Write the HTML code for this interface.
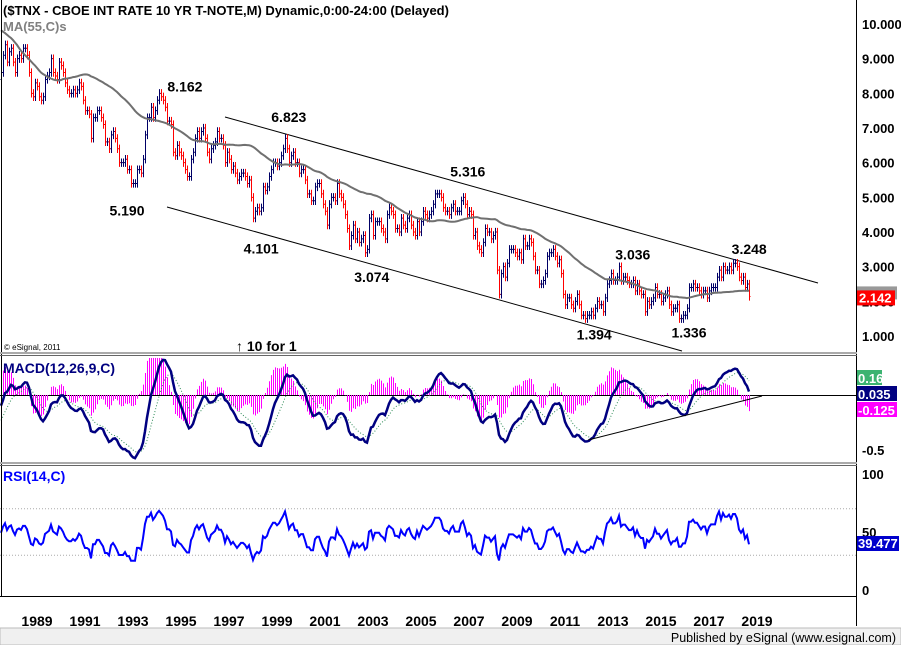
<!DOCTYPE html>
<html><head><meta charset="utf-8">
<style>
html,body{margin:0;padding:0;background:#fff;}
svg{display:block;font-family:"Liberation Sans",Arial,sans-serif;}
.b{font-weight:bold;font-size:14px;fill:#000;}
.ax{font-weight:bold;font-size:13px;fill:#000;}
</style></head>
<body>
<svg id="chart" width="901" height="645" viewBox="0 0 901 645" xmlns="http://www.w3.org/2000/svg">
<rect x="0" y="0" width="901" height="645" fill="#fff"/>
<g id="price"></g>
<g id="macd"></g>
<g id="rsi"></g>
<g id="frame">
  <line x1="1.5" y1="0" x2="1.5" y2="597" stroke="#000"/>
  <line x1="856.5" y1="0" x2="856.5" y2="626" stroke="#000"/>
  <line x1="0" y1="353" x2="857" y2="353" stroke="#aaa" stroke-width="2"/>
  <line x1="0" y1="355.5" x2="857" y2="355.5" stroke="#666"/>
  <line x1="0" y1="463" x2="857" y2="463" stroke="#aaa" stroke-width="2"/>
  <line x1="0" y1="465.5" x2="857" y2="465.5" stroke="#666"/>
  <line x1="0" y1="596.5" x2="857" y2="596.5" stroke="#000"/>
  <rect x="0" y="628" width="901" height="17" fill="#f0f0f0" stroke="#bbb"/>
  <text x="896" y="642" text-anchor="end" font-size="12.5" fill="#000">Published by eSignal (www.esignal.com)</text>
</g>
<g>
  <text x="3" y="15" font-size="13" font-weight="bold" fill="#000">($TNX - CBOE INT RATE 10 YR T-NOTE,M) Dynamic,0:00-24:00 (Delayed)</text>
  <text x="3" y="31" font-size="13" font-weight="bold" fill="#808080">MA(55,C)s</text>
  <text x="3" y="373" font-size="14" font-weight="bold" fill="#000080">MACD(12,26,9,C)</text>
  <text x="3" y="481" font-size="14" font-weight="bold" fill="#0000ff">RSI(14,C)</text>
  <text x="4" y="350" font-size="8" fill="#000">© eSignal, 2011</text>
  <text x="236" y="351" font-size="14" font-weight="bold" fill="#000">↑ 10 for 1</text>
</g>
</svg>
<script>
// Monthly closes of $TNX, Jan 1983 .. May 2019 (first 62 months are MA warm-up, not drawn)
const startYear = 1983;
const closes = [
10.5,10.6,10.5,10.3,10.9,10.9,11.6,11.8,11.4,11.7,11.6,11.8,
11.7,12.2,12.5,12.8,13.8,13.6,12.7,12.7,12.4,11.7,11.6,11.5,
11.2,12.1,11.6,11.4,10.3,10.2,10.6,10.4,10.4,10.0,9.5,8.9,
9.2,7.9,7.3,7.4,8.1,7.3,7.4,7.1,7.6,7.3,7.2,7.2,
7.1,7.2,7.6,8.4,8.8,8.4,8.7,9.0,9.6,8.9,8.9,8.8,
8.4,8.4,8.6,9.1,9.4,8.9,9.2,9.3,8.9,8.6,9.0,9.1,
9.0,9.3,9.3,9.1,8.6,8.0,7.9,8.3,8.2,7.9,7.8,7.9,
8.4,8.5,8.6,9.0,8.6,8.5,8.4,8.9,8.8,8.6,8.3,8.1,
8.0,8.0,8.1,8.0,8.1,8.3,8.2,7.8,7.5,7.5,7.4,6.7,
7.3,7.3,7.5,7.5,7.3,7.1,6.6,6.6,6.4,6.8,6.9,6.7,
6.4,6.0,6.0,6.0,6.1,5.8,5.8,5.4,5.4,5.4,5.8,5.8,
5.7,6.1,6.8,7.3,7.3,7.6,7.3,7.5,7.8,8.0,7.9,7.8,
7.6,7.2,7.2,7.1,6.3,6.2,6.5,6.3,6.2,6.0,5.8,5.6,
5.6,6.1,6.3,6.7,6.9,6.7,6.9,7.0,6.7,6.3,6.1,6.4,
6.5,6.6,6.9,6.7,6.7,6.5,6.0,6.3,6.1,5.8,5.9,5.7,
5.5,5.6,5.7,5.7,5.6,5.4,5.5,5.0,4.4,4.6,4.7,4.6,
4.7,5.3,5.2,5.3,5.6,5.8,6.0,6.0,5.9,6.0,6.2,6.4,
6.7,6.4,6.0,6.2,6.3,6.0,6.0,5.7,5.8,5.8,5.5,5.1,
5.1,4.9,4.9,5.3,5.4,5.4,5.1,4.8,4.6,4.2,4.8,5.0,
5.0,4.9,5.4,5.1,5.0,4.8,4.5,4.1,3.6,3.9,4.2,3.8,
4.0,3.7,3.8,3.9,3.4,3.5,4.4,4.5,3.9,4.3,4.3,4.3,
4.1,4.0,3.8,4.5,4.7,4.6,4.5,4.1,4.1,4.0,4.4,4.2,
4.1,4.4,4.5,4.2,4.0,3.9,4.3,4.0,4.3,4.6,4.5,4.4,
4.5,4.6,4.8,5.1,5.1,5.1,5.0,4.7,4.6,4.6,4.5,4.7,
4.8,4.6,4.6,4.6,4.9,5.0,4.8,4.5,4.6,4.5,3.9,4.0,
3.6,3.5,3.4,3.7,4.1,4.0,4.0,3.8,3.9,4.0,2.9,2.2,
2.8,3.0,2.7,3.1,3.5,3.5,3.5,3.4,3.3,3.4,3.2,3.8,
3.6,3.6,3.8,3.7,3.3,2.9,2.9,2.5,2.5,2.6,2.8,3.3,
3.4,3.4,3.5,3.3,3.1,3.2,2.8,2.2,1.9,2.1,2.1,1.9,
1.8,2.0,2.2,1.9,1.6,1.6,1.5,1.6,1.6,1.7,1.6,1.8,
2.0,1.9,1.9,1.7,2.1,2.5,2.6,2.8,2.6,2.6,2.7,3.0,
2.6,2.7,2.7,2.6,2.5,2.5,2.6,2.3,2.5,2.3,2.2,2.2,
1.7,2.0,1.9,2.0,2.1,2.4,2.2,2.2,2.0,2.1,2.2,2.3,
1.9,1.7,1.8,1.8,1.9,1.5,1.5,1.6,1.6,1.8,2.4,2.4,
2.5,2.4,2.4,2.3,2.2,2.3,2.3,2.1,2.3,2.4,2.4,2.4,
2.7,2.9,2.7,3.0,2.9,2.9,3.0,2.9,3.1,3.1,3.0,2.7,
2.6,2.7,2.4,2.5,2.14
];
const firstShown = 62; // Mar 1988
const priceTicks = [10,9,8,7,6,5,4,3,2,1];
const macdTicks = [-0.5];
const rsiTicks = [100,50,0];
const yearLabels = [1989,1991,1993,1995,1997,1999,2001,2003,2005,2007,2009,2011,2013,2015,2017,2019];
const pivotValues = ["8.162","6.823","5.316","3.248","5.190","4.101","3.074","3.036","1.394","1.336"];
const pivotTimes = [1994.83,1999.95,2007.45,2018.8,1993.75,1998.8,2003.45,2013.95,2012.55,2016.5];
const pivotPrices = [8.162,6.823,5.316,3.248,5.190,4.101,3.074,3.036,1.394,1.336];
const lastPrice = "2.142";
const macdLabels = ["0.16","0.035","-0.125"];
const rsiLabel = "39.477";
// label offsets (px) relative to each pivot
const pivotDx = [24,5,4,13,-8,5,4,13,8,8];
const pivotDy = [4,-12,-10,-4,25,25,18,-6,17,13];

const NS = "http://www.w3.org/2000/svg";
function tOf(i){return startYear + i/12;}
function xOf(t){return 21 + (t-1989)*24;}
function yP(v){return 336 - (v-1)*34.667;}
function yM(v){return Math.max(358, Math.min(461, 395 - v*110));}
function yR(v){return 590 - v*1.16;}
function mk(parent, tag, attrs){const e=document.createElementNS(NS,tag);for(const k in attrs)e.setAttribute(k,attrs[k]);parent.appendChild(e);return e;}

const gP=document.getElementById('price'), gM=document.getElementById('macd'), gR=document.getElementById('rsi');

const ma=[];for(let i=0;i<closes.length;i++){if(i<54){ma.push(null);continue;}let s=0;for(let j=i-54;j<=i;j++)s+=closes[j];ma.push(s/55);}
function ema(arr,n){const k=2/(n+1);const o=[];let p=arr[0];for(let i=0;i<arr.length;i++){p=i===0?arr[0]:arr[i]*k+p*(1-k);o.push(p);}return o;}
const e12=ema(closes,12), e26=ema(closes,26);
const macdV=closes.map((c,i)=>e12[i]-e26[i]);
const sigV=ema(macdV,9);
const rsiV=[];{let ag=0,al=0;for(let i=1;i<closes.length;i++){const d=closes[i]-closes[i-1];const g=Math.max(d,0),l=Math.max(-d,0);if(i<=14){ag+=g/14;al+=l/14;}else{ag=(ag*13+g)/14;al=(al*13+l)/14;}rsiV[i]=al===0?100:100-100/(1+ag/al);}}

priceTicks.forEach(v=>{const t=mk(gP,'text',{x:862,y:yP(v)+5,class:'ax'});t.textContent=v.toFixed(3);

});
[[225,117,818,283],[167,207,682,351]].forEach(l=>{const e=mk(gP,'line',{x1:l[0],y1:l[1],x2:l[2],y2:l[3],stroke:'#000','stroke-width':1});

});
for(let i=firstShown;i<closes.length;i++){
  const o=closes[i-1], c=closes[i]; const x=Math.round(xOf(tOf(i)))+0.5;
  const hi=Math.max(o,c)+0.12, lo=Math.min(o,c)-0.12;
  const col=c<o?'#ff0000':'#000066';
  const g=mk(gP,'g',{stroke:col,'stroke-width':1});
  
  
  mk(g,'line',{x1:x,y1:yP(hi),x2:x,y2:yP(lo)});
  mk(g,'line',{x1:x-1,y1:yP(o),x2:x,y2:yP(o)});
  mk(g,'line',{x1:x,y1:yP(c),x2:x+1,y2:yP(c)});
}
{let d='';for(let i=firstShown;i<closes.length;i++){d+=(d?'L':'M')+xOf(tOf(i)).toFixed(1)+','+yP(ma[i]).toFixed(1);}
const p=mk(gP,'path',{d:d,fill:'none',stroke:'#707070','stroke-width':2});

}
pivotValues.forEach((s,k)=>{const x=xOf(pivotTimes[k])+pivotDx[k];const y=yP(pivotPrices[k])+pivotDy[k];
const t=mk(gP,'text',{x:x,y:y,'text-anchor':'middle',class:'b'});t.textContent=s;

});
{const y=yP(parseFloat(lastPrice));
mk(gP,'rect',{x:857,y:y-10,width:40,height:13,fill:'#999'});
const r=mk(gP,'rect',{x:857,y:y-6,width:38,height:15,fill:'#ff0000'});


const t=mk(gP,'text',{x:859,y:y+6,class:'ax'});t.style.fill='#fff';t.textContent=lastPrice;

}

{const z=mk(gM,'line',{x1:0,y1:395.5,x2:856,y2:395.5,stroke:'#000'});

}
for(let i=firstShown;i<closes.length;i++){const h=macdV[i]-sigV[i];const x=Math.round(xOf(tOf(i)))+0.5;
const l=mk(gM,'line',{x1:x,y1:395,x2:x,y2:yM(h*1.5),stroke:'#ff00ff','stroke-width':1});

}
{let d='',d2='';for(let i=firstShown;i<closes.length;i++){const x=xOf(tOf(i)).toFixed(1);d+=(d?'L':'M')+x+','+yM(macdV[i]).toFixed(1);d2+=(d2?'L':'M')+x+','+yM(sigV[i]).toFixed(1);}
const s=mk(gM,'path',{d:d2,fill:'none',stroke:'#2e8b57','stroke-width':1,'stroke-dasharray':'1,2'});


const m=mk(gM,'path',{d:d,fill:'none',stroke:'#000080','stroke-width':2.5});

}
{const l=mk(gM,'line',{x1:588,y1:440,x2:762,y2:396,stroke:'#000'});

}
macdTicks.forEach(v=>{const t=mk(gM,'text',{x:862,y:yM(v)+5,class:'ax'});t.textContent=String(v);

});
[['#3cb371',378],['#000080',394],['#ff00ff',410]].forEach((c,k)=>{
const r=mk(gM,'rect',{x:857,y:c[1]-8,width:k===0?25:40,height:15,fill:c[0]});


const t=mk(gM,'text',{x:858,y:c[1]+5,class:'ax'});t.style.fill='#fff';t.textContent=macdLabels[k];

});

[70,30].forEach(v=>{const l=mk(gR,'line',{x1:0,y1:yR(v),x2:856,y2:yR(v),stroke:'#aaa','stroke-dasharray':'1,2'});

});
{let d='';for(let i=firstShown;i<closes.length;i++){d+=(d?'L':'M')+xOf(tOf(i)).toFixed(1)+','+yR(rsiV[i]).toFixed(1);}
const p=mk(gR,'path',{d:d,fill:'none',stroke:'#0000ff','stroke-width':2});

}
rsiTicks.forEach(v=>{const t=mk(gR,'text',{x:862,y:yR(v)+5,class:'ax'});t.textContent=String(v);

});
{const r=mk(gR,'rect',{x:857,y:536,width:42,height:15,fill:'#0000cc'});


const t=mk(gR,'text',{x:858,y:548,class:'ax'});t.style.fill='#fff';t.textContent=rsiLabel;

}

const svg=document.getElementById('chart');
yearLabels.forEach(y=>{const t=mk(svg,'text',{x:xOf(y+8/12),y:626,'text-anchor':'middle',class:'ax'});t.style.fontSize='14px';t.textContent=String(y);

});
</script>
</body></html>
